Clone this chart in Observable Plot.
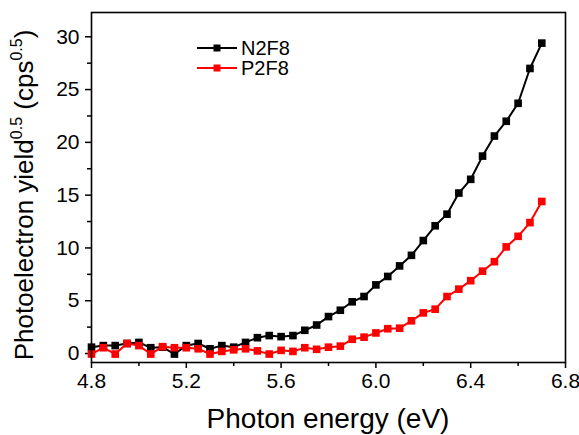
<!DOCTYPE html>
<html><head><meta charset="utf-8">
<script src="https://cdn.jsdelivr.net/npm/d3@7"></script>
<script src="https://cdn.jsdelivr.net/npm/@observablehq/plot@0.6"></script>
<style>body{margin:0;background:#fff} svg{display:block}</style>
</head><body><div id="chart"></div>
<script>
const energy = [4.80,4.85,4.90,4.95,5.00,5.05,5.10,5.15,5.20,5.25,5.30,5.35,5.40,5.45,5.50,5.55,5.60,5.65,5.70,5.75,5.80,5.85,5.90,5.95,6.00,6.05,6.10,6.15,6.20,6.25,6.30,6.35,6.40,6.45,6.50,6.55,6.60,6.65,6.70];
const n2f8 = [0.6,0.75,0.75,0.95,1.05,0.55,0.6,-0.05,0.75,0.95,0.45,0.75,0.6,1.05,1.5,1.7,1.6,1.7,2.2,2.7,3.5,4.1,4.9,5.4,6.5,7.3,8.3,9.3,10.7,12.1,13.2,15.2,16.5,18.7,20.6,22.0,23.7,27.0,29.4];
const p2f8 = [-0.05,0.55,-0.05,0.95,0.75,-0.05,0.65,0.55,0.55,0.45,-0.05,0.2,0.35,0.45,0.25,-0.05,0.3,0.2,0.55,0.4,0.6,0.7,1.35,1.55,1.95,2.35,2.4,3.1,3.85,4.2,5.4,6.1,6.9,7.8,8.7,10.1,11.1,12.4,14.4];
const seriesNames = ["N2F8", "P2F8"];
const seriesColors = ["#000000", "#ff0000"];
const xMajorTicks = [4.8, 5.2, 5.6, 6.0, 6.4, 6.8];
const xMinorTicks = [5.0, 5.4, 5.8, 6.2, 6.6];
const yMajorTicks = [0, 5, 10, 15, 20, 25, 30];
const yMinorTicks = [2.5, 7.5, 12.5, 17.5, 22.5, 27.5];
const xTitle = "Photon energy (eV)";

const seriesData = [n2f8, p2f8].map((vals, k) =>
  energy.map((e, i) => ({e, v: vals[i], s: seriesNames[k]})));

const font = "Arial, 'Liberation Sans', sans-serif";
const seriesMarks = seriesData.flatMap(d => [
  Plot.line(d, {x: "e", y: "v", stroke: "s", strokeWidth: 2}),
  Plot.dot(d, {x: "e", y: "v", fill: "s", symbol: "square", r: 4.3, stroke: "none"})
]);

const plot = Plot.plot({
  width: 579, height: 435,
  marginLeft: 91, marginRight: 14, marginTop: 12, marginBottom: 73,
  style: {fontFamily: font, background: "#fff", color: "#000", overflow: "visible"},
  x: {domain: [4.8, 6.8]},
  y: {domain: [-0.85, 32.3]},
  color: {domain: seriesNames, range: seriesColors},
  marks: [
    Plot.axisX({ticks: xMajorTicks, tickFormat: d => d.toFixed(1), tickSize: 6, tickPadding: 5, fontSize: 21, strokeWidth: 1.5, label: null}),
    Plot.axisX({ticks: xMinorTicks, tickFormat: () => "", tickSize: 4, strokeWidth: 1.5, label: null}),
    Plot.axisY({ticks: yMajorTicks, tickFormat: d => String(d), tickSize: 6, tickPadding: 6, fontSize: 21, strokeWidth: 1.5, label: null}),
    Plot.axisY({ticks: yMinorTicks, tickFormat: () => "", tickSize: 4, strokeWidth: 1.5, label: null}),
    ...seriesMarks,
    Plot.frame({stroke: "#000", strokeWidth: 1.6})
  ]
});
document.getElementById("chart").appendChild(plot);

const svg = d3.select(plot);
// x title
svg.append("text").attr("x", 328).attr("y", 428).attr("text-anchor", "middle")
  .attr("font-family", font).attr("font-size", 28).attr("fill", "#000").text(xTitle);
// y title with superscripts
const yt = svg.append("text").attr("transform", "translate(33,195) rotate(-90)")
  .attr("text-anchor", "middle").attr("font-family", font).attr("font-size", 26).attr("fill", "#000");
yt.append("tspan").text("Photoelectron yield");
yt.append("tspan").attr("font-size", 16).attr("dy", -11).text("0.5");
yt.append("tspan").attr("dy", 11).text(" (cps");
yt.append("tspan").attr("font-size", 16).attr("dy", -11).text("0.5");
yt.append("tspan").attr("dy", 11).text(")");
// legend
seriesNames.forEach((name, k) => {
  const y = 48 + k * 20;
  const g = svg.append("g");
  g.append("line").attr("x1", 197).attr("x2", 237).attr("y1", y).attr("y2", y)
    .attr("stroke", seriesColors[k]).attr("stroke-width", 2);
  g.append("rect").attr("x", 213.5).attr("y", y - 3.5).attr("width", 7).attr("height", 7).attr("fill", seriesColors[k]);
  g.append("text").attr("x", 241).attr("y", y).attr("dy", "0.36em").attr("text-anchor", "start")
    .attr("font-family", font).attr("font-size", 20).attr("fill", "#000").text(name);
});
</script>
</body></html>
